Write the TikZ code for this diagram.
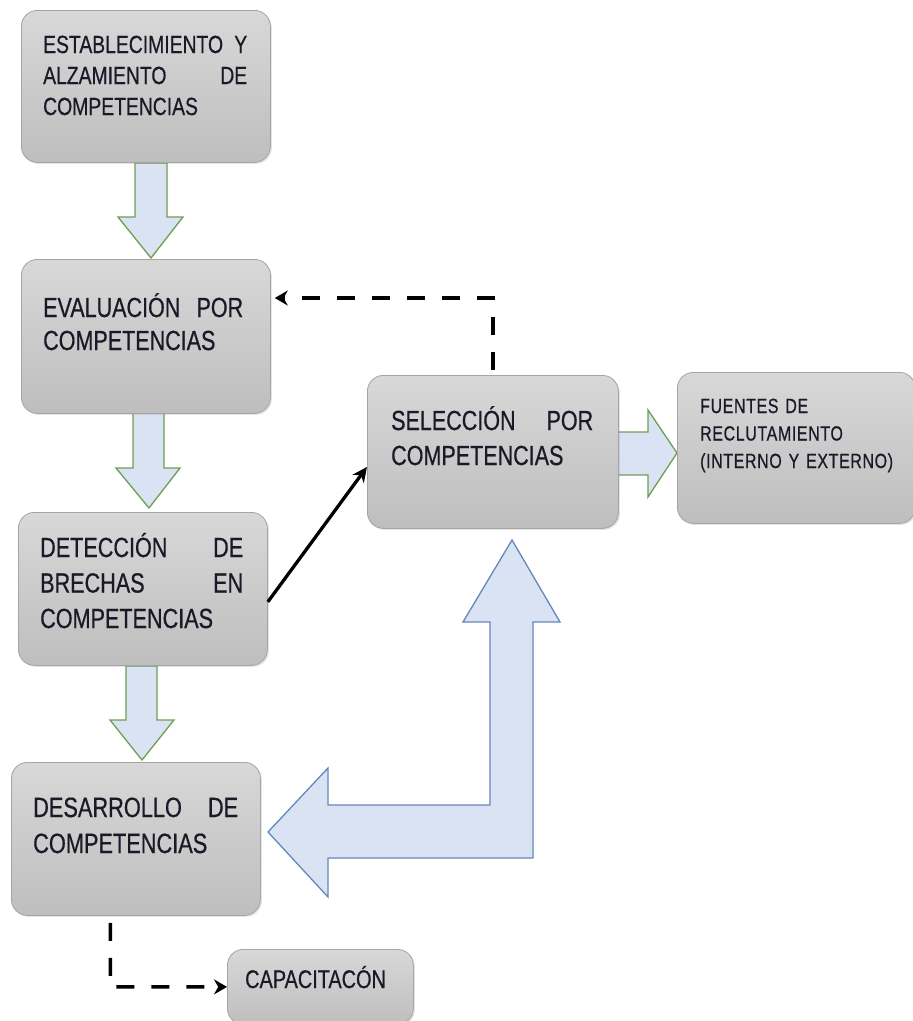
\documentclass[tikz,border=0pt]{standalone}
\usepackage{fontspec}
\newfontfamily\nar[FakeStretch=0.78,FakeBold=0.5]{Liberation Sans}
\newfontfamily\narls[FakeStretch=0.78,LetterSpace=3,FakeBold=0.6]{Liberation Sans}
\usetikzlibrary{arrows.meta,shadows}
\definecolor{boxtop}{RGB}{216,216,216}
\definecolor{boxbot}{RGB}{190,190,190}
\definecolor{boxline}{RGB}{165,165,165}
\definecolor{txtcol}{RGB}{25,25,40}
\definecolor{arrfill}{RGB}{218,227,243}
\definecolor{arrgreen}{RGB}{110,158,82}
\definecolor{arrblue}{RGB}{100,135,185}
\tikzset{
  box/.style={draw=boxline, line width=0.8pt, rounded corners=16pt,
    top color=boxtop, bottom color=boxbot, anchor=north west, inner sep=0pt,
    drop shadow={opacity=0.2, shadow xshift=1.5pt, shadow yshift=-1.5pt}},
  txt/.style={anchor=base west, inner sep=0pt, align=left, text=txtcol},
  blockg/.style={fill=arrfill, draw=arrgreen, line width=1.3pt, line join=miter},
  blockb/.style={fill=arrfill, draw=arrblue, line width=1.3pt, line join=miter},
  dasharrow/.style={line width=3.5pt, dash pattern=on 18pt off 17pt,
    -{Stealth[length=13pt,width=15pt]}},
  solidarrow/.style={line width=3.3pt, -{Stealth[length=15pt,width=14pt]}}
}
\begin{document}
\begin{tikzpicture}[x=1pt,y=-1pt]
\useasboundingbox[fill=white] (0,0) rectangle (913,1021);
% block arrows
\draw[blockg] (135,163) -- (167,163) -- (167,217) -- (183,217) -- (151,258) -- (118,217) -- (135,217) -- cycle;
\draw[blockg] (133,413) -- (164,413) -- (164,468) -- (180,468) -- (149,508) -- (116,468) -- (133,468) -- cycle;
\draw[blockg] (126,666) -- (157,666) -- (157,720) -- (174,720) -- (142,760) -- (110,720) -- (126,720) -- cycle;
\draw[blockg] (617,432) -- (648,432) -- (648,410) -- (677,453) -- (648,497) -- (648,475) -- (617,475) -- cycle;
\draw[blockb] (268,832) -- (328,768) -- (328,805) -- (490,805) -- (490,622) -- (463,622) -- (512,540)
  -- (560,622) -- (533,622) -- (533,858) -- (328,858) -- (328,897) -- cycle;
% boxes
\node[box, minimum width=249pt, minimum height=152pt] (b1) at (21,10) {};
\node[box, minimum width=249pt, minimum height=154pt] (b2) at (21,259) {};
\node[box, minimum width=249pt, minimum height=153pt] (b3) at (18,512) {};
\node[box, minimum width=249pt, minimum height=153pt] (b4) at (11,762) {};
\node[box, minimum width=251pt, minimum height=153pt] (sel) at (367,375) {};
\node[box, minimum width=238pt, minimum height=151pt] (fu) at (677,372) {};
\node[box, minimum width=186pt, minimum height=75pt] (cap) at (227,949) {};
% texts
\node[txt, text width=204pt, font=\nar\fontsize{24.8}{31}\selectfont] (t1) at (43,53)
  {ESTABLECIMIENTO\hfill Y\\ALZAMIENTO\hfill DE\\COMPETENCIAS};
\node[txt, text width=200pt, font=\nar\fontsize{27.6}{33}\selectfont] (t2) at (43,317)
  {EVALUACIÓN\hfill POR\\COMPETENCIAS};
\node[txt, text width=203pt, font=\nar\fontsize{27.7}{35.5}\selectfont] (t3) at (40,557)
  {DETECCIÓN\hfill DE\\BRECHAS\hfill EN\\COMPETENCIAS};
\node[txt, text width=205pt, font=\nar\fontsize{27.9}{36}\selectfont] (t4) at (33,817)
  {DESARROLLO\hfill DE\\COMPETENCIAS};
\node[txt, text width=202pt, font=\nar\fontsize{27.6}{35}\selectfont] (t5) at (391,430)
  {SELECCIÓN\hfill POR\\COMPETENCIAS};
\node[txt, text width=205pt, font=\narls\fontsize{20.5}{27.5}\selectfont] (t6) at (700,413)
  {FUENTES DE\\RECLUTAMIENTO\\(INTERNO Y EXTERNO)};
\node[txt, font=\nar\fontsize{25.5}{30}\selectfont] (t7) at (245,988) {CAPACITACÓN};
% connectors
\draw[solidarrow] ([yshift=-13pt]b3.east) -- ([yshift=-15pt]sel.west);
\draw[dasharrow, shorten <=5pt, shorten >=4pt] (sel.north) -- ++(0,-77) coordinate (d1c) -- (d1c -| b2.east);
\draw[dasharrow, shorten <=7pt] ([xshift=-25.5pt]b4.south) -- ++(0,71) coordinate (d2c) -- (cap.west);
\end{tikzpicture}
\end{document}
